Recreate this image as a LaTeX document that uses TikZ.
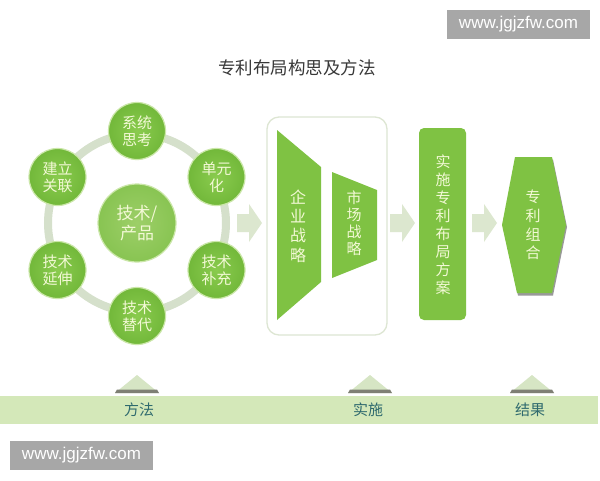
\documentclass[tikz,border=0pt]{standalone}
\usepackage{fontspec}
\newfontfamily\cjk{Noto Sans CJK SC}
\newfontfamily\wmfont{Liberation Sans}
\usetikzlibrary{shapes.geometric}
\definecolor{leaf}{HTML}{7FC243}
\definecolor{leafin}{HTML}{8ACB4E}
\definecolor{leafout}{HTML}{72B83A}
\definecolor{hubin}{HTML}{9DCF68}
\definecolor{hubout}{HTML}{88C452}
\definecolor{ringc}{HTML}{D5E0CB}
\definecolor{arrowc}{HTML}{DCE7CF}
\definecolor{bandc}{HTML}{D4E8B9}
\definecolor{textlt}{HTML}{F3F9D6}
\definecolor{bandtext}{HTML}{2F6A6E}
\definecolor{wmgray}{HTML}{A7A7A7}
\definecolor{boxc}{HTML}{DDE6D3}
\definecolor{tric}{HTML}{D6E5C4}
\definecolor{stripec}{HTML}{7E7F74}
\definecolor{glow}{HTML}{CBE7A9}
\tikzset{
  sat/.style={circle, minimum size=57pt, inner sep=0pt, shading=radial, inner color=leafin, outer color=leafout, draw=glow, line width=1.2pt, align=center, text=textlt, font=\cjk\fontsize{15}{17}\selectfont},
  hub/.style={circle, minimum size=78pt, inner sep=0pt, shading=radial, inner color=hubin, outer color=hubout, draw=glow, line width=1.2pt, align=center, text=textlt, font=\cjk\fontsize{17}{20}\selectfont},
  vtext/.style={align=center, text=textlt, inner sep=0pt, font=\cjk\fontsize{16}{19.3}\selectfont},
  bandlabel/.style={text=bandtext, inner sep=0pt, font=\cjk\fontsize{15}{17}\selectfont},
  wm/.style={fill=wmgray, text=white, minimum width=143pt, minimum height=29pt, inner sep=0pt, font=\wmfont\fontsize{17}{19}\selectfont},
}
\newcommand\blockarrow[1]{\fill[arrowc] (#1,214) -- ++(12,0) -- ++(0,-10) -- ++(13,19) -- ++(-13,19) -- ++(0,-10) -- ++(-12,0) -- cycle;}
\newcommand\bumptri[1]{%
  \fill[tric] (#1-22,393) -- (#1,375) -- (#1+22,393) -- cycle;
  \fill[stripec] (#1-20,389.5) -- (#1+20,389.5) -- (#1+22,393) -- (#1-22,393) -- cycle;}
\begin{document}
\begin{tikzpicture}[x=1pt,y=-1pt]
\useasboundingbox (0,0) rectangle (600,480);
\fill[white] (0,0) rectangle (600,480);
% watermarks
\node[wm] (wmtop) at (518.5,24.5) {www.jgjzfw.com};
\node[wm] (wmbot) at (81.5,455) {www.jgjzfw.com};
% title
\node[text=black!78, font=\cjk\fontsize{17.5}{19}\selectfont] (title) at (297,68) {专利布局构思及方法};
% ring
\draw[ringc, line width=8pt] (137,223) circle (89);
\node[hub] (hub) at (137,223) {技术/\\产品};
\node[sat] (s1) at (137,131) {系统\\思考};
\node[sat] (s2) at (216.5,177) {单元\\化};
\node[sat] (s3) at (216.5,270) {技术\\补充};
\node[sat] (s4) at (137,316) {技术\\替代};
\node[sat] (s5) at (57.5,270) {技术\\延伸};
\node[sat] (s6) at (57.5,177) {建立\\关联};
% arrows
\blockarrow{237}
\blockarrow{390}
\blockarrow{472}
% strategy box
\node[draw=boxc, line width=1.3pt, rounded corners=12pt, fill=white, minimum width=120pt, minimum height=218pt, inner sep=0pt] (box) at (327,226) {};
\fill[leaf] (277,130) -- (321,167) -- (321,282) -- (277,320) -- cycle;
\node[vtext] (t1) at (298,226) {企\\业\\战\\略};
\fill[leaf] (332,172) -- (377,190) -- (377,260) -- (332,278) -- cycle;
\node[vtext, font=\cjk\fontsize{15}{16.8}\selectfont] (t2) at (354,223) {市\\场\\战\\略};
% plan
\node[fill=leaf, rounded corners=5pt, minimum width=47pt, minimum height=192pt, inner sep=0pt] (plan) at (442.5,224) {};
\node[vtext, font=\cjk\fontsize{15}{18}\selectfont] (t3) at (443,225) {实\\施\\专\\利\\布\\局\\方\\案};
% result hexagon
\fill[black!40] (516,159.5) -- (553,159.5) -- (567,227) -- (553,295.5) -- (518,295.5) -- (503,227) -- cycle;
\fill[leaf] (515,157) -- (552,157) -- (566,225) -- (552,293) -- (517,293) -- (502,225) -- cycle;
\node[vtext, font=\cjk\fontsize{15}{18.7}\selectfont] (t4) at (533,225) {专\\利\\组\\合};
% bottom band
\bumptri{137}
\bumptri{370}
\bumptri{532}
\fill[bandc] (0,396) rectangle (598,424);
\node[bandlabel] (b1) at (139,410) {方法};
\node[bandlabel] (b2) at (368,410) {实施};
\node[bandlabel] (b3) at (530,410) {结果};
\end{tikzpicture}
\end{document}
